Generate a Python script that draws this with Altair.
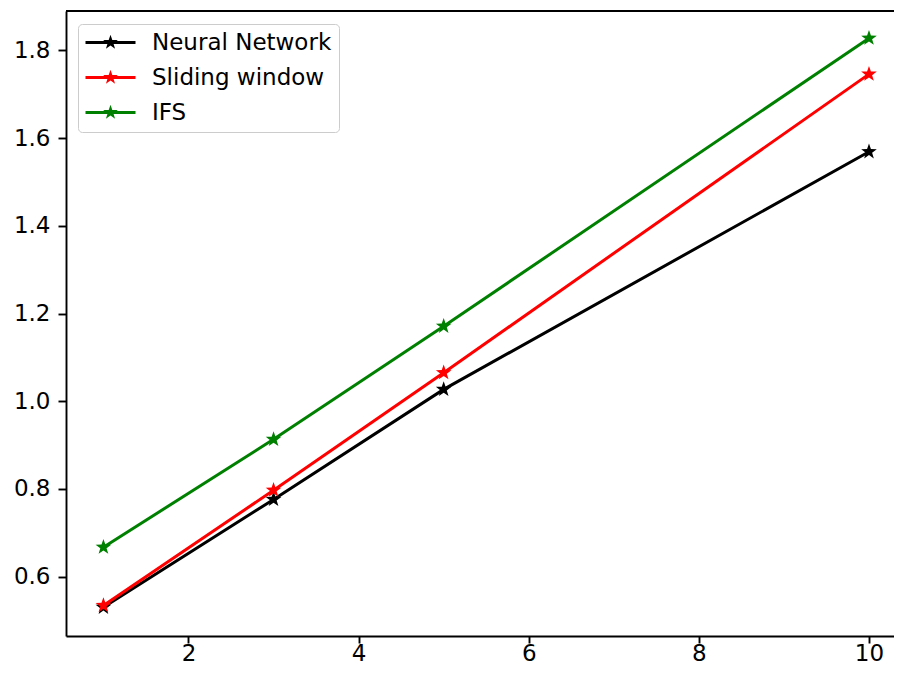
import math
import altair as alt
import pandas as pd

# ---- data ----
x_vals = [1, 3, 5, 10]
neural_network = [0.530, 0.776, 1.027, 1.569]
sliding_window = [0.534, 0.797, 1.065, 1.746]
ifs = [0.667, 0.913, 1.171, 1.828]
series_names = ["Neural Network", "Sliding window", "IFS"]
series_colors = ["#000000", "#ff0000", "#008000"]
x_ticks = [2, 4, 6, 8, 10]
y_ticks = [0.6, 0.8, 1.0, 1.2, 1.4, 1.6, 1.8]

rows = []
for name, vals in zip(series_names, [neural_network, sliding_window, ifs]):
    for xv, yv in zip(x_vals, vals):
        rows.append({"x": xv, "y": yv, "series": name})
df = pd.DataFrame(rows)


def star_path(cx, cy, r_out, r_in):
    pts = []
    for i in range(10):
        ang = -math.pi / 2 + i * math.pi / 5
        r = r_out if i % 2 == 0 else r_in
        pts.append((cx + r * math.cos(ang), cy + r * math.sin(ang)))
    return "M" + "L".join(f"{px:.3f},{py:.3f}" for px, py in pts) + "Z"


point_star = star_path(0, 0, 1, 0.40)
legend_symbol = "M-2.2,-0.3H7.8V0.3H-2.2Z" + star_path(2.8, 0, 1.55, 0.62)

W, H = 828, 625
FONT = "DejaVu Sans"
FS = 23

xs = alt.Scale(domain=[0.560, 10.294], nice=False, zero=False)
ys = alt.Scale(domain=[0.4645, 1.890], nice=False, zero=False)

x_axis = alt.Axis(values=x_ticks, format="d", title=None, grid=False,
                  tickSize=7, tickWidth=1.9, tickColor="#000",
                  domainColor="#000", domainWidth=1.9,
                  labelPadding=17, labelBaseline="alphabetic",
                  labelFont=FONT, labelFontSize=FS,
                  labelColor="#000", labelFlush=False)
y_axis = alt.Axis(values=y_ticks, format=".1f", title=None, grid=False,
                  tickSize=8, tickWidth=1.9, tickColor="#000",
                  domainColor="#000", domainWidth=1.9,
                  labelPadding=8, labelFont=FONT, labelFontSize=FS,
                  labelColor="#000", labelFlush=False)

base = alt.Chart(df)
X = alt.X("x:Q", scale=xs, axis=x_axis)
Y = alt.Y("y:Q", scale=ys, axis=y_axis)

line_layers = []
for name, col in zip(series_names, series_colors):
    line_layers.append(
        base.transform_filter(alt.datum.series == name)
        .mark_line(strokeWidth=3.0, color=col)
        .encode(x=X, y=Y)
    )

points = base.mark_point(shape=point_star, size=270, filled=True,
                         opacity=1).encode(
    x=X,
    y=Y,
    color=alt.Color("series:N", sort=series_names,
                    scale=alt.Scale(domain=series_names, range=series_colors),
                    legend=alt.Legend(
                        title=None, orient="none", legendX=12, legendY=13,
                        symbolType=legend_symbol, symbolSize=100,
                        symbolStrokeWidth=0, symbolOpacity=1,
                        labelFont=FONT, labelFontSize=FS, labelColor="#000",
                        labelOffset=44, labelLimit=400,
                        padding=7, rowPadding=11,
                        strokeColor="#cccccc", fillColor="rgba(255,255,255,0.8)",
                        cornerRadius=4)),
)

top_border = alt.Chart(pd.DataFrame({"k": [0]})).mark_rule(
    color="#000", strokeWidth=1.9).encode(
    x=alt.value(0), x2=alt.value(W), y=alt.value(0))

chart = alt.layer(*line_layers, points, top_border).properties(
    width=W, height=H,
    autosize=alt.AutoSizeParams(type="none"),
    padding={"left": 58, "top": 3, "right": 0, "bottom": 30},
).configure_view(stroke=None)

chart.save("out.html", embed_options={"renderer": "svg", "actions": False})
